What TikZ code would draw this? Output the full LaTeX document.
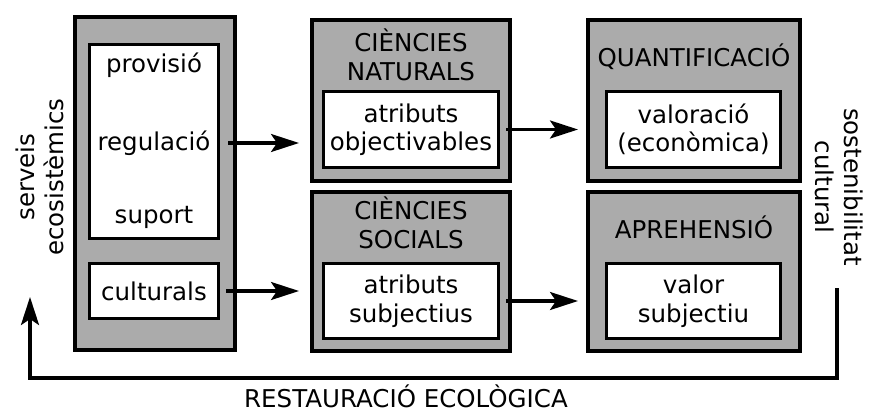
\documentclass[tikz,border=0pt]{standalone}
\usepackage{fontspec}
\setmainfont{DejaVu Sans}
\usetikzlibrary{arrows.meta}
\definecolor{panelgray}{RGB}{171,171,171}
\begin{document}
\begin{tikzpicture}[x=1pt,y=-1pt,
  font=\fontsize{24.5}{28.5}\selectfont,
  panel/.style={draw, fill=panelgray, line width=4pt, rectangle, inner sep=0pt},
  card/.style={draw, fill=white, line width=3.4pt, rectangle, inner sep=0pt, align=center},
  label/.style={inner sep=0pt, align=center},
  flow/.style={line width=3.2pt, -{Stealth[length=28pt,width=18pt,inset=6pt]}},
  loop/.style={line width=3.4pt, -{Stealth[length=28pt,width=18pt,inset=6pt]}}]
\useasboundingbox (0,0) rectangle (869,412);

% services column
\node[panel, minimum width=160pt, minimum height=333pt] (services) at (154.5,183.5) {};
\node[card, minimum width=129pt, minimum height=194pt] (core) at (154,141.5) {};
\node[label] (provisio) at (154,65) {provisió};
\node[label] (regulacio) at (154,143) {regulació};
\node[label] (suport) at (154,217) {suport};
\node[card, minimum width=129pt, minimum height=55pt] (culturals) at (154,291) {culturals};

% sciences column
\node[panel, minimum width=198pt, minimum height=161pt] (natural) at (411,100.5) {};
\node[label] (naturaltitle) at (411,55) {CIÈNCIES\\NATURALS};
\node[card, minimum width=175pt, minimum height=76pt] (objective) at (411,129.5) {atributs\\objectivables};
\node[panel, minimum width=198pt, minimum height=159pt] (social) at (411,271.5) {};
\node[label] (socialtitle) at (411,223) {CIÈNCIES\\SOCIALS};
\node[card, minimum width=175pt, minimum height=75pt] (subjective) at (411,301) {atributs\\subjectius};

% value column
\node[panel, minimum width=212pt, minimum height=161pt] (quant) at (694,100.5) {};
\node[label] (quanttitle) at (694,57) {QUANTIFICACIÓ};
\node[card, minimum width=174pt, minimum height=76pt] (valuation) at (693.5,129.5) {valoració\\(econòmica)};
\node[panel, minimum width=212pt, minimum height=159pt] (apprehension) at (694,271.5) {};
\node[label] (apprtitle) at (694,227) {APREHENSIÓ};
\node[card, minimum width=174pt, minimum height=75pt] (subjvalue) at (693.5,301) {valor\\subjectiu};

% side and bottom labels
\node[label, rotate=90] (serveis) at (40,177) {serveis\\ecosistèmics};
\node[label, rotate=-90] (sostenibilitat) at (839,187) {sostenibilitat\\cultural};
\node[label, anchor=base] (restauracio) at (406,407) {RESTAURACIÓ ECOLÒGICA};

% forward flow
\draw[flow, shorten <=8pt, shorten >=11pt] (core.east |- regulacio) -- (natural.west |- regulacio);
\draw[flow, shorten <=6pt, shorten >=11pt] (culturals.east) -- (social.west |- culturals);
\draw[flow, shorten <=6pt, shorten >=8pt] (objective.east) -- (quant.west |- objective);
\draw[flow, shorten <=6pt, shorten >=8pt] (subjective.east) -- (apprehension.west |- subjective);

% feedback loop
\coordinate (loopstart) at (837,288);
\coordinate (loopright) at (837,378);
\coordinate (loopleft) at (30,378);
\coordinate (loopend) at (30,297);
\draw[loop] (loopstart) -- (loopright) -- (loopleft) -- (loopend);
\end{tikzpicture}
\end{document}
